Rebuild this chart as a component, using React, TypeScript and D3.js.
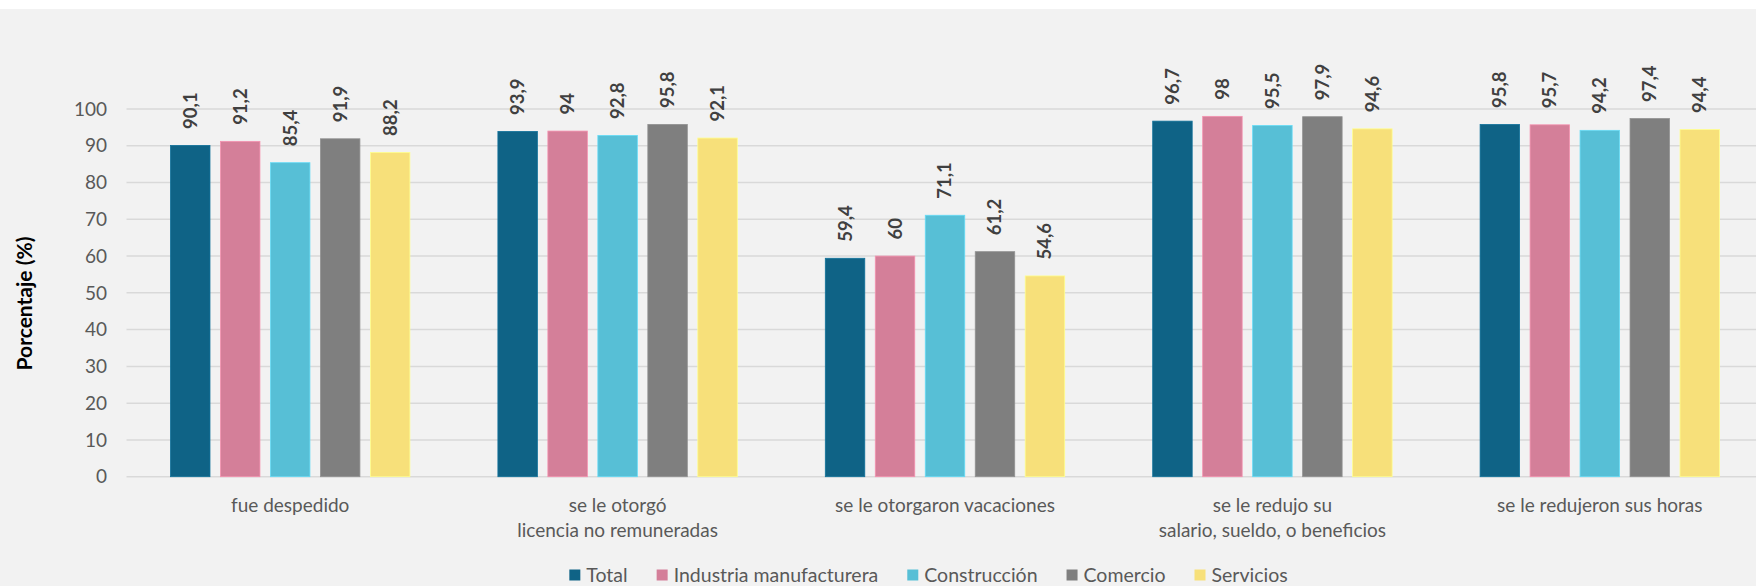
import React, { useEffect, useRef } from "react";
import * as d3 from "d3";

const categories: string[][] = [
  ["fue despedido"],
  ["se le otorgó", "licencia no remuneradas"],
  ["se le otorgaron vacaciones"],
  ["se le redujo su", "salario, sueldo, o beneficios"],
  ["se le redujeron sus horas"],
];
const seriesNames = ["Total", "Industria manufacturera", "Construcción", "Comercio", "Servicios"];
const seriesColors = ["#0f6386", "#d47f99", "#57bfd6", "#7f7f7f", "#f7e07a"];
const total = [90.1, 93.9, 59.4, 96.7, 95.8];
const industria = [91.2, 94, 60, 98, 95.7];
const construccion = [85.4, 92.8, 71.1, 95.5, 94.2];
const comercio = [91.9, 95.8, 61.2, 97.9, 97.4];
const servicios = [88.2, 92.1, 54.6, 94.6, 94.4];
const seriesValues = [total, industria, construccion, comercio, servicios];
const yTicks = [0, 10, 20, 30, 40, 50, 60, 70, 80, 90, 100];

const W = 1756;
const H = 586;
const FONT = "Lato, 'Open Sans', sans-serif";

export default function App() {
  const ref = useRef<SVGSVGElement>(null);
  useEffect(() => {
    const svg = d3.select(ref.current);
    svg.selectAll("*").remove();
    svg.append("rect").attr("width", W).attr("height", H).attr("fill", "#ffffff");
    svg.append("rect").attr("y", 9).attr("width", W).attr("height", H - 9).attr("fill", "#f2f2f2");

    const x0 = d3.scaleBand<number>().domain(d3.range(categories.length)).range([126.5, 1763.5]).padding(0);
    const bw = x0.bandwidth();
    const x1 = d3.scaleBand<number>().domain(d3.range(seriesNames.length)).range([44, bw - 44]).paddingInner(0.21).paddingOuter(0);
    const y = d3.scaleLinear().domain([0, 100]).range([476.7, 109]);

    const grid = svg.append("g");
    grid.selectAll("line").data(yTicks).join("line")
      .attr("x1", 126.5).attr("x2", W)
      .attr("y1", (d) => y(d)).attr("y2", (d) => y(d))
      .attr("stroke", "#d9d9d9").attr("stroke-width", 1.5);

    svg.append("g").selectAll("text").data(yTicks).join("text")
      .attr("x", 107).attr("y", (d) => y(d)).attr("dy", "0.35em")
      .attr("text-anchor", "end").attr("font-family", FONT).attr("font-size", 19)
      .attr("fill", "#595959").text((d) => String(d));

    svg.append("text")
      .attr("transform", `translate(25,303.5) rotate(-90)`)
      .attr("text-anchor", "middle").attr("dy", "0.35em")
      .attr("font-family", FONT).attr("font-size", 21).attr("font-weight", "bold")
      .attr("fill", "#000").text("Porcentaje (%)");

    const groups = svg.append("g").selectAll("g").data(categories).join("g")
      .attr("transform", (_d, i) => `translate(${x0(i)},0)`);

    seriesValues.forEach((vals, s) => {
      groups.append("rect")
        .attr("x", x1(s)!).attr("width", x1.bandwidth())
        .attr("y", (_d, i) => y(vals[i])).attr("height", (_d, i) => y(0) - y(vals[i]))
        .attr("fill", seriesColors[s])
        .attr("stroke", d3.color(seriesColors[s])!.brighter(0.4).formatHex()).attr("stroke-width", 0.8);
      groups.append("text")
        .attr("transform", (_d, i) => `translate(${x1(s)! + x1.bandwidth() / 2},${y(vals[i]) - 16.5}) rotate(-90)`)
        .attr("dy", "0.35em").attr("text-anchor", "start")
        .attr("font-family", FONT).attr("font-size", 18.5).attr("font-weight", "bold")
        .attr("fill", "#404040").text((_d, i) => String(vals[i]).replace(".", ","));
    });

    groups.each(function (lines) {
      const g = d3.select(this);
      lines.forEach((ln, k) => {
        g.append("text").attr("x", bw / 2).attr("y", 505 + k * 25).attr("dy", "0.35em")
          .attr("text-anchor", "middle").attr("font-family", FONT).attr("font-size", 19)
          .attr("fill", "#595959").text(ln);
      });
    });

    const leg = svg.append("g");
    let cx = 0;
    seriesNames.forEach((name, s) => {
      const g = leg.append("g");
      g.append("rect").attr("x", 0).attr("y", -5.5).attr("width", 11).attr("height", 11).attr("fill", seriesColors[s]);
      const t = g.append("text").attr("x", 17).attr("dy", "0.35em")
        .attr("font-family", FONT).attr("font-size", 19.5).attr("fill", "#595959").text(name);
      const w = 17 + (t.node() as SVGTextElement).getComputedTextLength();
      g.attr("transform", `translate(${cx},0)`);
      cx += w + 29;
    });
    const totalW = cx - 29;
    leg.attr("transform", `translate(${928.5 - totalW / 2},575)`);
  }, []);
  return (
    <div style={{ position: "absolute", left: 0, top: 0 }}>
      <svg ref={ref} width={W} height={H} style={{ display: "block" }} />
    </div>
  );
}
